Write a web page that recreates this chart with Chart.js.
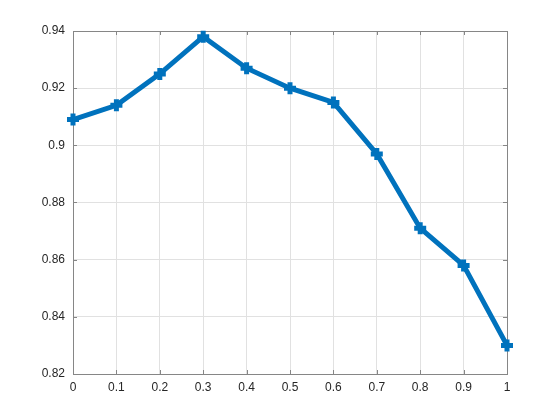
<!DOCTYPE html>
<html>
<head>
<meta charset="utf-8">
<script src="https://cdn.jsdelivr.net/npm/chart.js@4"></script>
<style>
html,body{margin:0;padding:0;background:#fff;}
#wrap{width:560px;height:420px;position:relative;}
</style>
</head>
<body>
<div id="wrap"><canvas id="c" width="560" height="420"></canvas></div>
<script>
const xValues = [0, 0.1, 0.2, 0.3, 0.4, 0.5, 0.6, 0.7, 0.8, 0.9, 1];
const yValues = [0.909, 0.914, 0.925, 0.938, 0.927, 0.920, 0.915, 0.897, 0.871, 0.858, 0.830];
const xTickLabels = ['0', '0.1', '0.2', '0.3', '0.4', '0.5', '0.6', '0.7', '0.8', '0.9', '1'];
const yTickLabels = ['0.82', '0.84', '0.86', '0.88', '0.9', '0.92', '0.94'];

const xTickVals = xTickLabels.map(Number);
const yTickVals = yTickLabels.map(Number);

const AXIS_COLOR = '#868686';
const TEXT_COLOR = '#262626';
const GRID_COLOR = '#e1e1e1';

const boxPlugin = {
  id: 'boxPlugin',
  beforeDatasetsDraw(chart) {
    const {ctx, chartArea: a, scales} = chart;
    ctx.save();
    ctx.strokeStyle = AXIS_COLOR;
    ctx.lineWidth = 1;
    const L = 4;
    ctx.beginPath();
    xTickVals.forEach(v => {
      const x = Math.round(scales.x.getPixelForValue(v)) + 0.5;
      ctx.moveTo(x, a.bottom); ctx.lineTo(x, a.bottom - L);
      ctx.moveTo(x, a.top); ctx.lineTo(x, a.top + L);
    });
    yTickVals.forEach(v => {
      const y = Math.round(scales.y.getPixelForValue(v)) + 0.5;
      ctx.moveTo(a.left, y); ctx.lineTo(a.left + L, y);
      ctx.moveTo(a.right, y); ctx.lineTo(a.right - L, y);
    });
    ctx.stroke();
    ctx.strokeRect(Math.round(a.left) + 0.5, Math.round(a.top) + 0.5,
                   Math.round(a.right - a.left), Math.round(a.bottom - a.top));
    ctx.restore();
  }
};

new Chart(document.getElementById('c'), {
  type: 'line',
  data: {
    datasets: [{
      data: xValues.map((x, i) => ({x: x, y: yValues[i]})),
      borderColor: '#0072BD',
      backgroundColor: '#0072BD',
      borderWidth: 5,
      pointStyle: 'cross',
      pointRadius: 6,
      pointBorderWidth: 5,
      pointBorderColor: '#0072BD',
      pointHoverRadius: 6,
      tension: 0,
      fill: false,
      clip: false
    }]
  },
  options: {
    responsive: false,
    animation: false,
    events: [],
    layout: {padding: {left: 0, top: 31, right: 53, bottom: 0}},
    plugins: {legend: {display: false}, tooltip: {enabled: false}},
    scales: {
      x: {
        type: 'linear',
        min: 0, max: 1,
        afterBuildTicks(s) { s.ticks = xTickVals.map(v => ({value: v})); },
        afterFit(s) { s.height = 46; },
        grid: {color: GRID_COLOR, drawTicks: false, lineWidth: 1},
        border: {display: false},
        ticks: {
          padding: 6,
          color: TEXT_COLOR,
          font: {family: 'Liberation Sans, Arial, sans-serif', size: 12},
          maxRotation: 0,
          callback: (v, i) => xTickLabels[i]
        }
      },
      y: {
        type: 'linear',
        min: 0.82, max: 0.94,
        afterBuildTicks(s) { s.ticks = yTickVals.map(v => ({value: v})); },
        afterFit(s) { s.width = 73; },
        grid: {color: GRID_COLOR, drawTicks: false, lineWidth: 1},
        border: {display: false},
        ticks: {
          padding: 8,
          color: TEXT_COLOR,
          font: {family: 'Liberation Sans, Arial, sans-serif', size: 12},
          callback: (v, i) => yTickLabels[i]
        }
      }
    }
  },
  plugins: [boxPlugin]
});
</script>
</body>
</html>
